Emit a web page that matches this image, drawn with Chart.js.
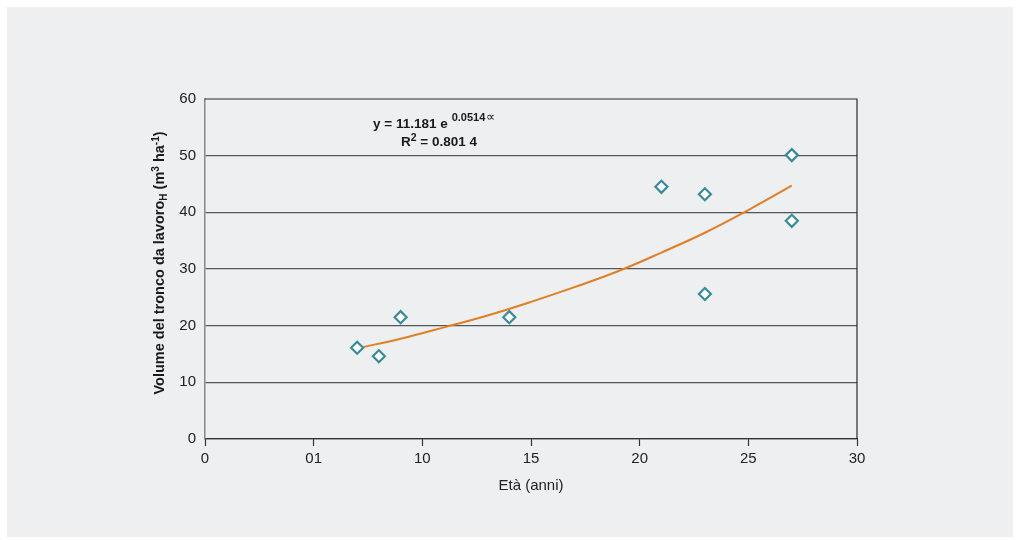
<!DOCTYPE html>
<html>
<head>
<meta charset="utf-8">
<script src="https://cdn.jsdelivr.net/npm/chart.js@4/dist/chart.umd.min.js"></script>
<style>
    html, body { margin: 0; padding: 0; background: #ffffff; }
    #panel {
        position: absolute; left: 7px; top: 7px;
        width: 1006px; height: 530px;
        background: #eeeff1;
    }
    canvas { display: block; }
</style>
</head>
<body>
<div id="panel"><canvas id="volumeChart" width="1006" height="530"></canvas></div>
<script>
// Observed stem volume vs stand age
const ages = [7, 8, 9, 14, 21, 23, 23, 27, 27];
const volumes = [16.1, 14.6, 21.5, 21.5, 44.5, 43.2, 25.6, 50.1, 38.5];

// Exponential trend curve
const trendAges = [7, 9, 11, 13, 15, 17, 19, 21, 23, 25, 27];
const trendVolumes = [16.0, 17.7, 19.7, 21.8, 24.2, 26.8, 29.6, 32.9, 36.4, 40.4, 44.7];

// Tick labels as printed (the "01" is in the original)
const xTickLabels = ['0', '01', '10', '15', '20', '25', '30'];
const yTickValues = [0, 10, 20, 30, 40, 50, 60];

const narrowFont = "'Liberation Sans Narrow', 'Liberation Sans', Arial, sans-serif";
const boldFont = "'Liberation Sans', Arial, sans-serif";

// Draws the rotated y title (with subscript / superscripts) and the equation box
const labelsPlugin = {
    id: 'labels',
    afterDraw(chart) {
        const ctx = chart.ctx;
        const area = chart.chartArea;
        ctx.save();
        ctx.fillStyle = '#1a1a1a';
        ctx.textBaseline = 'alphabetic';

        // y axis title
        const parts = [
            { t: 'Volume del tronco da lavoro', size: 14.5, dy: 0 },
            { t: 'H', size: 10, dy: 3 },
            { t: ' (m', size: 14.5, dy: 0 },
            { t: '3', size: 10, dy: -5 },
            { t: ' ha', size: 14.5, dy: 0 },
            { t: '-1', size: 10, dy: -5 },
            { t: ')', size: 14.5, dy: 0 }
        ];
        let total = 0;
        parts.forEach(p => {
            ctx.font = 'bold ' + p.size + 'px ' + boldFont;
            p.w = ctx.measureText(p.t).width;
            total += p.w;
        });
        ctx.translate(157, (area.top + area.bottom) / 2 - 6);
        ctx.rotate(-Math.PI / 2);
        let x = -total / 2;
        parts.forEach(p => {
            ctx.font = 'bold ' + p.size + 'px ' + boldFont;
            ctx.fillText(p.t, x, p.dy);
            x += p.w;
        });
        ctx.setTransform(1, 0, 0, 1, 0, 0);

        // equation
        let ex = 366;
        const ey = 121;
        ctx.font = 'bold 13.5px ' + boldFont;
        ctx.fillText('y = 11.181 e', ex, ey);
        ex += ctx.measureText('y = 11.181 e').width + 4;
        ctx.font = 'bold 11px ' + boldFont;
        ctx.fillText('0.0514', ex, ey - 7);
        ex += ctx.measureText('0.0514').width + 1;
        ctx.font = '13px ' + boldFont;
        ctx.fillText('\u221D', ex, ey - 7);

        let rx = 394;
        const ry = 139;
        ctx.font = 'bold 13.5px ' + boldFont;
        ctx.fillText('R', rx, ry);
        rx += ctx.measureText('R').width;
        ctx.font = 'bold 10.5px ' + boldFont;
        ctx.fillText('2', rx, ry - 5);
        rx += ctx.measureText('2').width;
        ctx.font = 'bold 13.5px ' + boldFont;
        ctx.fillText(' = 0.801 4', rx, ry);
        ctx.restore();
    }
};

// Right and top frame lines
const framePlugin = {
    id: 'frame',
    beforeDatasetsDraw(chart) {
        const { ctx, chartArea: a } = chart;
        ctx.save();
        ctx.strokeStyle = '#2a2a2a';
        ctx.lineWidth = 1.2;
        ctx.beginPath();
        ctx.moveTo(a.left, a.top);
        ctx.lineTo(a.right, a.top);
        ctx.lineTo(a.right, a.bottom);
        ctx.stroke();
        ctx.restore();
    }
};

const ctx = document.getElementById('volumeChart').getContext('2d');
new Chart(ctx, {
    type: 'scatter',
    data: {
        datasets: [
            {
                label: 'Trend',
                type: 'line',
                data: trendAges.map((a, i) => ({ x: a, y: trendVolumes[i] })),
                borderColor: '#e07f24',
                borderWidth: 2,
                pointRadius: 0,
                tension: 0.4,
                fill: false,
                order: 2
            },
            {
                label: 'Osservati',
                data: ages.map((a, i) => ({ x: a, y: volumes[i] })),
                pointStyle: 'rectRot',
                pointRadius: 6,
                borderColor: '#3a8a99',
                borderWidth: 2.2,
                backgroundColor: 'rgba(255,255,255,1)',
                order: 1
            }
        ]
    },
    options: {
        responsive: false,
        animation: false,
        layout: { padding: { left: 140, top: 92, right: 156, bottom: 42 } },
        plugins: {
            legend: { display: false },
            tooltip: { enabled: false }
        },
        scales: {
            x: {
                type: 'linear',
                min: 0,
                max: 30,
                afterBuildTicks: axis => { axis.ticks = xTickLabels.map((_, i) => ({ value: i * 5 })); },
                afterFit: axis => { axis.height = 56; },
                grid: {
                    drawOnChartArea: false,
                    tickLength: 7,
                    tickColor: '#333',
                    tickWidth: 1.2
                },
                border: { color: '#333', width: 1.2 },
                ticks: {
                    color: '#222',
                    padding: 4,
                    maxRotation: 0,
                    font: { family: narrowFont, size: 15 },
                    callback: (v) => xTickLabels[Math.round(v / 5)]
                },
                title: {
                    display: true,
                    text: 'Età (anni)',
                    color: '#222',
                    padding: { top: 4, bottom: 0 },
                    font: { family: narrowFont, size: 15 }
                }
            },
            y: {
                min: 0,
                max: 60,
                afterBuildTicks: axis => { axis.ticks = yTickValues.map(v => ({ value: v })); },
                afterFit: axis => { axis.width = 58; },
                grid: {
                    drawTicks: false,
                    color: ctx => ctx.tick.value === 60 ? 'transparent' : '#555',
                    lineWidth: 1.2
                },
                border: { color: '#888', width: 1.5 },
                ticks: {
                    color: '#222',
                    padding: 9,
                    font: { family: narrowFont, size: 15 }
                }
            }
        }
    },
    plugins: [framePlugin, labelsPlugin]
});
</script>
</body>
</html>
